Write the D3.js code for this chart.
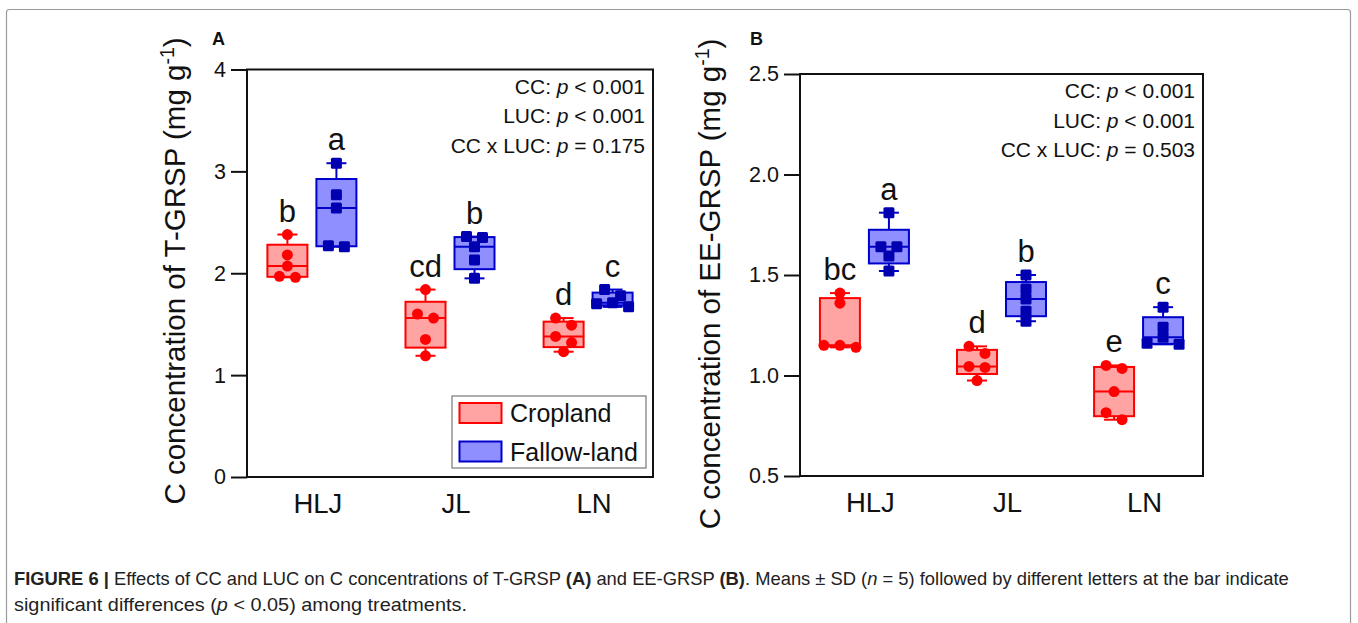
<!DOCTYPE html>
<html>
<head>
<meta charset="utf-8">
<script src="https://cdn.jsdelivr.net/npm/d3@7"></script>
<style>
  body { margin: 0; background: #fff; }
  svg { display: block; font-family: "Liberation Sans", Arial, sans-serif; }
</style>
</head>
<body>
<svg id="fig" width="1358" height="623"></svg>
<script>
// sites along the x axis, and the two land uses
var sites = ["HLJ", "JL", "LN"];
var landUses = ["Cropland", "Fallow-land"];

// panel A: T-GRSP (mg g-1), five replicates per site
var tgrspCropland = [[2.38, 2.18, 2.07, 1.97, 1.96], [1.84, 1.60, 1.56, 1.35, 1.19], [1.56, 1.49, 1.38, 1.32, 1.23]];
var tgrspFallow = [[3.08, 2.77, 2.64, 2.27, 2.26], [2.36, 2.35, 2.26, 2.13, 1.95], [1.84, 1.78, 1.71, 1.70, 1.67]];
var tgrspLettersCrop = ["b", "cd", "d"];
var tgrspLettersFallow = ["a", "b", "c"];
var tgrspTicks = [0, 1, 2, 3, 4];
var tgrspStats = [["CC: ", "< 0.001"], ["LUC: ", "< 0.001"], ["CC x LUC: ", "= 0.175"]];

// panel B: EE-GRSP (mg g-1)
var eegrspCropland = [[1.41, 1.36, 1.15, 1.15, 1.14], [1.145, 1.11, 1.045, 1.04, 0.975], [1.05, 1.035, 0.92, 0.815, 0.78]];
var eegrspFallow = [[1.81, 1.64, 1.64, 1.595, 1.52], [1.50, 1.43, 1.38, 1.32, 1.27], [1.34, 1.24, 1.19, 1.16, 1.155]];
var eegrspLettersCrop = ["bc", "d", "e"];
var eegrspLettersFallow = ["a", "b", "c"];
var eegrspTicks = [0.5, 1.0, 1.5, 2.0, 2.5];
var eegrspStats = [["CC: ", "< 0.001"], ["LUC: ", "< 0.001"], ["CC x LUC: ", "= 0.503"]];

var colors = {
    Cropland: { fill: "#ffa3a3", stroke: "#ff0000", point: "#ff0000" },
    "Fallow-land": { fill: "#8f8fff", stroke: "#0000cc", point: "#0000b0" }
};

var svg = d3.select("#fig");

// outer figure frame
svg.append("rect")
    .attr("x", 6.5).attr("y", 9.5)
    .attr("width", 1344).attr("height", 640)
    .attr("rx", 3)
    .attr("fill", "none")
    .attr("stroke", "#9a9a9a")
    .attr("stroke-width", 1.2);

// quartiles the way Origin does it for small n: position (n+1)p
function quartile(sorted, p) {
    var pos = (sorted.length + 1) * p;
    var lo = Math.floor(pos);
    if (lo < 1) return sorted[0];
    if (lo >= sorted.length) return sorted[sorted.length - 1];
    return sorted[lo - 1] + (pos - lo) * (sorted[lo] - sorted[lo - 1]);
}

// points that would overlap are spread sideways
function spreadPoints(vals, y, thr, gap) {
    var s = vals.slice().sort(function(a, b) { return b - a; });
    var out = [];
    var i = 0;
    while (i < s.length) {
        var grp = [s[i]];
        var j = i + 1;
        while (j < s.length && grp.length < 3 && Math.abs(y(s[j]) - y(grp[0])) < thr) {
            grp.push(s[j]);
            j++;
        }
        var offs = grp.length === 1 ? [0] : grp.length === 2 ? [-gap / 2, gap / 2] : [0, -gap, gap];
        grp.forEach(function(v, k) { out.push({ v: v, dx: offs[k] }); });
        i = j;
    }
    return out;
}

function drawPanel(cfg) {
    var g = svg.append("g");

    var y = d3.scaleLinear().domain(cfg.domain).range([cfg.bottom, cfg.top]);
    var x = d3.scalePoint().domain(sites).range([cfg.left, cfg.right]).padding(0.47);
    var sub = d3.scalePoint().domain(landUses).range([-24.5, 24.5]);

    // plot frame
    g.append("rect")
        .attr("x", cfg.left).attr("y", cfg.top)
        .attr("width", cfg.right - cfg.left).attr("height", cfg.bottom - cfg.top)
        .attr("fill", "none").attr("stroke", "#111").attr("stroke-width", 2);

    var axis = g.append("g")
        .attr("transform", "translate(" + cfg.left + ",0)")
        .call(d3.axisLeft(y).tickValues(cfg.ticks).tickFormat(d3.format(cfg.fmt)).tickSize(16).tickPadding(5));
    axis.attr("font-family", null);
    axis.select(".domain").remove();
    axis.selectAll(".tick line").attr("stroke", "#111").attr("stroke-width", 2);
    axis.selectAll(".tick text")
        .attr("font-size", 21.5).attr("fill", "#111");

    // site labels
    g.selectAll(".site").data(sites).enter().append("text")
        .attr("x", function(d) { return x(d) + 6; })
        .attr("y", cfg.bottom + 36)
        .attr("text-anchor", "middle")
        .attr("font-size", 27.5)
        .attr("fill", "#111")
        .text(function(d) { return d; });

    // y title
    var title = g.append("text")
        .attr("transform", "translate(" + cfg.titleX + "," + cfg.titleY + ") rotate(-90)")
        .attr("text-anchor", "middle")
        .attr("font-size", 29.5)
        .attr("fill", "#111");
    title.append("tspan").text(cfg.title + " (mg g");
    title.append("tspan").attr("font-size", 19.5).attr("dy", -11).text("-1");
    title.append("tspan").attr("dy", 11).text(")");

    // panel letter
    g.append("text")
        .attr("x", cfg.letterX).attr("y", 45)
        .attr("font-size", 18).attr("font-weight", "bold")
        .attr("fill", "#111")
        .text(cfg.letter);

    // statistics lines
    cfg.stats.forEach(function(s, i) {
        var t = g.append("text")
            .attr("x", cfg.right - 8)
            .attr("y", cfg.top + 24 + i * 29.5)
            .attr("text-anchor", "end")
            .attr("font-size", 21)
            .attr("fill", "#111");
        t.append("tspan").text(s[0]);
        t.append("tspan").attr("font-style", "italic").text("p");
        t.append("tspan").text(" " + s[1]);
    });

    // boxes
    var series = [
        { use: "Cropland", values: cfg.crop, letters: cfg.lettersCrop },
        { use: "Fallow-land", values: cfg.fallow, letters: cfg.lettersFallow }
    ];
    series.forEach(function(ser) {
        var c = colors[ser.use];
        sites.forEach(function(site, si) {
            var vals = ser.values[si];
            var sorted = vals.slice().sort(d3.ascending);
            var q1 = quartile(sorted, 0.25), med = quartile(sorted, 0.5), q3 = quartile(sorted, 0.75);
            var mn = sorted[0], mx = sorted[sorted.length - 1];
            var cx = x(site) + sub(ser.use);
            var bg = g.append("g");

            bg.append("line").attr("x1", cx).attr("x2", cx).attr("y1", y(q3)).attr("y2", y(mx))
                .attr("stroke", c.stroke).attr("stroke-width", 2);
            bg.append("line").attr("x1", cx).attr("x2", cx).attr("y1", y(q1)).attr("y2", y(mn))
                .attr("stroke", c.stroke).attr("stroke-width", 2);
            [mn, mx].forEach(function(v) {
                bg.append("line").attr("x1", cx - 10).attr("x2", cx + 10).attr("y1", y(v)).attr("y2", y(v))
                    .attr("stroke", c.stroke).attr("stroke-width", 2);
            });
            bg.append("rect")
                .attr("x", cx - 20).attr("y", y(q3))
                .attr("width", 40).attr("height", y(q1) - y(q3))
                .attr("fill", c.fill).attr("stroke", c.stroke).attr("stroke-width", 2);
            bg.append("line").attr("x1", cx - 20).attr("x2", cx + 20).attr("y1", y(med)).attr("y2", y(med))
                .attr("stroke", c.stroke).attr("stroke-width", 2);

            var pts = spreadPoints(vals, y, 8.5, 16);
            if (ser.use === "Cropland") {
                bg.selectAll("circle").data(pts).enter().append("circle")
                    .attr("cx", function(p) { return cx + p.dx; })
                    .attr("cy", function(p) { return y(p.v); })
                    .attr("r", 5.5)
                    .attr("fill", c.point);
            } else {
                bg.selectAll("rect.pt").data(pts).enter().append("rect")
                    .attr("class", "pt")
                    .attr("x", function(p) { return cx + p.dx - 5.5; })
                    .attr("y", function(p) { return y(p.v) - 5.5; })
                    .attr("width", 11).attr("height", 11)
                    .attr("rx", 1.5)
                    .attr("fill", c.point);
            }

            g.append("text")
                .attr("x", cx).attr("y", y(mx) - 13)
                .attr("text-anchor", "middle")
                .attr("font-size", 31)
                .attr("fill", "#111")
                .text(ser.letters[si]);
        });
    });

    if (cfg.legend) {
        var lg = g.append("g").attr("transform", "translate(452,396)");
        lg.append("rect").attr("width", 194).attr("height", 72)
            .attr("fill", "#fff").attr("stroke", "#777").attr("stroke-width", 1.2);
        landUses.forEach(function(u, i) {
            lg.append("rect")
                .attr("x", 7.5).attr("y", 7 + i * 38.5)
                .attr("width", 42).attr("height", 20)
                .attr("fill", colors[u].fill).attr("stroke", colors[u].stroke).attr("stroke-width", 2);
            lg.append("text")
                .attr("x", 58).attr("y", 26 + i * 38.5)
                .attr("font-size", 25).attr("fill", "#111")
                .text(u);
        });
    }
}

drawPanel({
    left: 247, right: 653, top: 69.5, bottom: 477,
    domain: [0, 4], ticks: tgrspTicks, fmt: "d",
    crop: tgrspCropland, fallow: tgrspFallow,
    lettersCrop: tgrspLettersCrop, lettersFallow: tgrspLettersFallow,
    stats: tgrspStats,
    title: "C concentration of T-GRSP", titleX: 185, titleY: 271,
    letter: "A", letterX: 212,
    legend: true
});

drawPanel({
    left: 800, right: 1203, top: 74, bottom: 476,
    domain: [0.5, 2.5], ticks: eegrspTicks, fmt: ".1f",
    crop: eegrspCropland, fallow: eegrspFallow,
    lettersCrop: eegrspLettersCrop, lettersFallow: eegrspLettersFallow,
    stats: eegrspStats,
    title: "C concentration of EE-GRSP", titleX: 720, titleY: 284,
    letter: "B", letterX: 750,
    legend: false
});

// caption
var capFont = "'Liberation Sans Narrow', 'Liberation Sans', Arial, sans-serif";
var cap1 = svg.append("text").attr("x", 14).attr("y", 585)
    .attr("font-family", capFont).attr("font-size", 17.5).attr("fill", "#222");
[["FIGURE 6 | ", "bold"], ["Effects of CC and LUC on C concentrations of T-GRSP ", ""], ["(A)", "bold"],
 [" and EE-GRSP ", ""], ["(B)", "bold"], [". Means \u00b1 SD (", ""], ["n", "italic"],
 [" = 5) followed by different letters at the bar indicate", ""]].forEach(function(p) {
    var t = cap1.append("tspan").text(p[0]);
    if (p[1] === "bold") t.attr("font-weight", "bold");
    if (p[1] === "italic") t.attr("font-style", "italic");
});
var cap2 = svg.append("text").attr("x", 14).attr("y", 611)
    .attr("font-family", capFont).attr("font-size", 17.5).attr("fill", "#222");
cap2.append("tspan").text("significant differences (");
cap2.append("tspan").attr("font-style", "italic").text("p");
cap2.append("tspan").text(" < 0.05) among treatments.");

// stretch caption lines to the widths in the figure
[[cap1, 1276], [cap2, 453]].forEach(function(c) {
    var w = c[0].node().getComputedTextLength();
    var sx = c[1] / w;
    c[0].attr("transform", "translate(14,0) scale(" + sx + ",1) translate(-14,0)");
});
</script>
</body>
</html>
